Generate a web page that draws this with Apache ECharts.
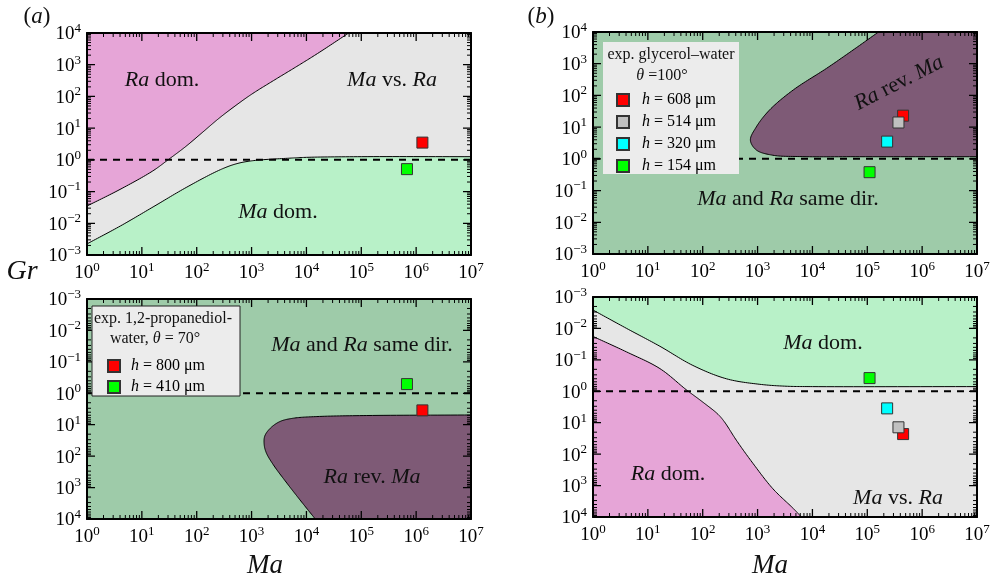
<!DOCTYPE html>
<html><head><meta charset="utf-8">
<script src="https://cdn.jsdelivr.net/npm/echarts@6/dist/echarts.min.js"></script>
<style>html,body{margin:0;padding:0;background:#fff}#c{width:993px;height:579px}</style>
</head><body><div id="c"></div>
<script>
// ---------- data (Ma, Gr) ----------
const maRange = [1, 1e7];
const grRange = [1e-3, 1e4];
const maDecades = [0,1,2,3,4,5,6,7];          // tick labels 10^n on Ma axes
const grDecades = [-3,-2,-1,0,1,2,3,4];       // tick labels 10^n on Gr axes
// panel (a) top: regime boundaries
const aTopRaBoundary = [[1,0.035],[4,0.117],[15.8,0.447],[31.6,1.07],[63,2.63],[126,7.24],[251,20],[501,50],[1000,117],[2510,316],[6310,832],[15850,2240],[5.9e4,1e4]];
const aTopMaBoundary = [[1,0.00224],[4.1,0.0083],[16.6,0.034],[66,0.138],[270,0.49],[540,0.76],[1100,0.95],[4500,1.12],[1e4,1.2],[1e5,1.26],[1e7,1.26]];
// panel (a) bottom: "Ra rev. Ma" boundary
const aBottomRevBoundary = [[1e7,4.9],[1.26e5,5.1],[1.55e4,5.5],[5800,6.2],[3300,7.9],[2200,12.9],[1740,23],[1700,44],[1860,79],[2500,190],[4400,720],[7600,2450],[1.45e4,1e4]];
// panel (b) top: "Ra rev. Ma" boundary
const bTopRevBoundary = [[1.6e5,1e4],[5.5e4,2700],[1.8e4,710],[4500,150],[1660,35],[950,10.2],[740,3.9],[950,1.9],[1900,1.3],[5900,1.18],[7.2e4,1.17],[1e7,1.17]];
// panel (b) bottom: regime boundaries
const bBottomMaBoundary = [[1,0.0026],[4.1,0.010],[16.6,0.037],[66,0.15],[270,0.40],[1100,0.60],[3300,0.69],[1e4,0.71],[1e7,0.71]];
const bBottomRaBoundary = [[1,0.018],[4.1,0.056],[16.6,0.19],[50,0.89],[100,2.2],[190,5.4],[250,9.5],[410,36],[830,200],[1900,1260],[4500,5400],[6300,1e4]];
// experiments
const aNames = ['h = 800 μm','h = 410 μm'];
const aColors = ['#ff0000','#00ff00'];
const aMa = [1.3e6, 6.8e5];
const aGr = [3.5, 0.51];
const bNames = ['h = 608 μm','h = 514 μm','h = 320 μm','h = 154 μm'];
const bColors = ['#ff0000','#c0c0c0','#00ffff','#00ff00'];
const bMa = [4.5e5, 3.7e5, 2.3e5, 1.1e5];
const bGr = [23, 14, 3.5, 0.38];
const unityLine = [[1,1],[1e7,1]];

// ---------- styles ----------
const F = 'Liberation Serif';
const C = { pink:'#e6a5d7', grey:'#e6e6e6', light:'#b8f1c8', dark:'#9ecba9', purple:'#7e5a76' };
const grids = [
  {left:87, top:33, width:384, height:222, bg:C.grey, inv:false},
  {left:87, top:299, width:384, height:220, bg:C.dark, inv:true},
  {left:593, top:32, width:384, height:222, bg:C.dark, inv:false},
  {left:593, top:297, width:384, height:220, bg:C.grey, inv:true}
];
const majors = d => d.map(e => Math.pow(10, e));
const minors = d => { const r = []; for (let i=0;i<d.length-1;i++) for (let k=2;k<=9;k++) r.push(k*Math.pow(10, d[i])); return r; };
function expLabel(v){ const e = Math.round(Math.log10(v)); return '{b|10}{e|' + (e<0 ? '\u2212'+(-e) : e) + '}'; }
const labelRich = { b:{fontFamily:F, fontSize:19, color:'#000', lineHeight:22, verticalAlign:'bottom'}, e:{fontFamily:F, fontSize:13, color:'#000', lineHeight:13, verticalAlign:'top'} };
function axisBase(g, range, inv){
  return {type:'log', logBase:10, min:range[0], max:range[1], gridIndex:g, inverse:!!inv, z:10, splitNumber:7,
    splitLine:{show:false},
    axisLine:{show:true, onZero:false, lineStyle:{color:'#000', width:2}},
    axisTick:{show:false}, minorTick:{show:false}};
}
const xAxis = [], yAxis = [];
grids.forEach((g,i)=>{
  xAxis.push(Object.assign(axisBase(i, maRange, false), {position:'bottom', axisLabel:{show:true, margin:6, customValues:majors(maDecades), formatter:expLabel, rich:labelRich}}));
  xAxis.push(Object.assign(axisBase(i, maRange, false), {position:'top', axisLabel:{show:false}}));
  yAxis.push(Object.assign(axisBase(i, grRange, g.inv), {position:'left', axisLabel:{show:true, margin:6, customValues:majors(grDecades), formatter:expLabel, rich:labelRich}}));
  yAxis.push(Object.assign(axisBase(i, grRange, g.inv), {position:'right', axisLabel:{show:false}}));
});
// inward frame ticks drawn as broken line series (tick length converted from px to log-axis factor)
function tickSeries(g, len, width, xv, yv){
  const gr = grids[g];
  const nx = Math.log10(maRange[1]/maRange[0]), ny = Math.log10(grRange[1]/grRange[0]);
  const fy = Math.pow(10, len*ny/gr.height), fx = Math.pow(10, len*nx/gr.width);
  const d = [], gap = ['-','-'];
  xv.forEach(v=>{ d.push([v, grRange[0]], [v, grRange[0]*fy], gap, [v, grRange[1]], [v, grRange[1]/fy], gap); });
  yv.forEach(v=>{ d.push([maRange[0], v], [maRange[0]*fx, v], gap, [maRange[1], v], [maRange[1]/fx, v], gap); });
  return {type:'line', xAxisIndex:2*g, yAxisIndex:2*g, data:d, showSymbol:false, silent:true, z:6, connectNulls:false,
    lineStyle:{color:'#000', width}};
}
function frameTicks(g){
  return [tickSeries(g, 8, 1.3, majors(maDecades), majors(grDecades)), tickSeries(g, 4, 1, minors(maDecades), minors(grDecades))];
}
// centripetal Catmull-Rom through pixel points (rendering only)
function smoothPath(P){
  if (P.length < 3) return P.slice();
  const out = [P[0]];
  const ext = [[2*P[0][0]-P[1][0], 2*P[0][1]-P[1][1]], ...P, [2*P[P.length-1][0]-P[P.length-2][0], 2*P[P.length-1][1]-P[P.length-2][1]]];
  const dd = (a,b)=>Math.max(1e-6, Math.pow(Math.hypot(b[0]-a[0], b[1]-a[1]), 0.5));
  for (let i=1;i<ext.length-2;i++){
    const p0=ext[i-1], p1=ext[i], p2=ext[i+1], p3=ext[i+2];
    const t0=0, t1=t0+dd(p0,p1), t2=t1+dd(p1,p2), t3=t2+dd(p2,p3);
    const N=16;
    for (let s=1;s<=N;s++){
      const t=t1+(t2-t1)*s/N;
      const Lr=(a,b,ta,tb)=>[ (tb-t)/(tb-ta)*a[0]+(t-ta)/(tb-ta)*b[0], (tb-t)/(tb-ta)*a[1]+(t-ta)/(tb-ta)*b[1] ];
      const A1=Lr(p0,p1,t0,t1), A2=Lr(p1,p2,t1,t2), A3=Lr(p2,p3,t2,t3);
      const B1=Lr(A1,A2,t0,t2), B2=Lr(A2,A3,t1,t3);
      out.push(Lr(B1,B2,t1,t2));
    }
  }
  return out;
}
function region(g, curvePts, closure, color){
  return {type:'custom', xAxisIndex:2*g, yAxisIndex:2*g, silent:true, z:1, clip:true, data:[[1,1]],
    renderItem:(params, api)=>{
      const c = smoothPath(curvePts.map(p=>api.coord(p)));
      const k = closure.map(p=>api.coord(p));
      return {type:'group', children:[
        {type:'polygon', shape:{points:c.concat(k)}, style:{fill:color}},
        {type:'polyline', shape:{points:c}, style:{stroke:'#000', lineWidth:1, fill:null}}
      ]};
    }};
}
function dashed(g){
  return {type:'line', xAxisIndex:2*g, yAxisIndex:2*g, data:unityLine, showSymbol:false, silent:true, z:3,
    lineStyle:{color:'#000', width:2, type:[7,6]}};
}
function points(g, names, colors, ma, gr){
  return names.map((n,k)=>({type:'scatter', name:n, xAxisIndex:2*g, yAxisIndex:2*g, z:4, symbol:'rect', symbolSize:11,
    data:[[ma[k], gr[k]]], itemStyle:{color:colors[k], borderColor:'#333', borderWidth:1, opacity:1}}));
}
const series = [
  region(0, aTopRaBoundary, [[1,1e4]], C.pink),
  region(0, aTopMaBoundary, [[1e7,1e-3],[1,1e-3]], C.light),
  ...frameTicks(0), dashed(0), ...points(0, aNames, aColors, aMa, aGr),
  region(1, aBottomRevBoundary, [[1e7,1e4]], C.purple),
  ...frameTicks(1), dashed(1), ...points(1, aNames, aColors, aMa, aGr),
  region(2, bTopRevBoundary, [[1e7,1e4]], C.purple),
  ...frameTicks(2), dashed(2), ...points(2, bNames, bColors, bMa, bGr),
  region(3, bBottomMaBoundary, [[1e7,1e-3],[1,1e-3]], C.light),
  region(3, bBottomRaBoundary, [[1,1e4]], C.pink),
  ...frameTicks(3), dashed(3), ...points(3, bNames, bColors, bMa, bGr)
];
function txt(x, y, text, size, rot, z){
  return {type:'text', x, y, rotation:rot||0, z:z||20,
    style:{text, fontFamily:F, fontSize:size, fill:'#111', align:'center', verticalAlign:'middle',
      rich:{i:{fontStyle:'italic', fontFamily:F, fontSize:size, fill:'#111'}}}};
}
const legendText = {fontFamily:F, fontSize:16, color:'#000', padding:[0,0,0,6],
  rich:{i:{fontStyle:'italic', fontFamily:F, fontSize:16, color:'#000'}}};
const option = {
  animation:false,
  backgroundColor:'#fff',
  grid: grids.map(g=>({left:g.left, top:g.top, width:g.width, height:g.height, show:true, backgroundColor:g.bg, borderWidth:0, containLabel:false})),
  xAxis, yAxis, series,
  legend:[
    {data:aNames, orient:'vertical', left:102, top:353, itemWidth:12, itemHeight:12, itemGap:5, icon:'rect', selectedMode:false, z:30,
      textStyle:legendText, formatter:n=>n.replace(/^h/, '{i|h}')},
    {data:bNames, orient:'vertical', left:611, top:87, itemWidth:12, itemHeight:12, itemGap:6, icon:'rect', selectedMode:false, z:30,
      textStyle:Object.assign({}, legendText, {padding:[0,0,0,8]}), formatter:n=>n.replace(/^h/, '{i|h}')}
  ],
  graphic:[
    {type:'rect', z:25, shape:{x:92, y:306, width:148, height:90}, style:{fill:'#ececec', stroke:'#222', lineWidth:1}},
    txt(163, 319, 'exp. 1,2-propanediol-', 16, 0, 31),
    txt(155, 339, 'water, {i|θ} = 70°', 16, 0, 31),
    {type:'rect', z:25, shape:{x:603, y:42, width:136, height:132}, style:{fill:'#ececec'}},
    txt(671, 55, 'exp. glycerol–water', 16, 0, 31),
    txt(662, 76, '{i|θ} =100°', 16, 0, 31),
    txt(162, 80, '{i|Ra} dom.', 22),
    txt(392, 80, '{i|Ma} vs. {i|Ra}', 22),
    txt(278, 212, '{i|Ma} dom.', 22),
    txt(362, 345, '{i|Ma} and {i|Ra} same dir.', 22),
    txt(372, 477, '{i|Ra} rev. {i|Ma}', 22),
    txt(899, 83, '{i|Ra} rev. {i|Ma}', 22, 27*Math.PI/180),
    txt(788, 199, '{i|Ma} and {i|Ra} same dir.', 22),
    txt(823, 343, '{i|Ma} dom.', 22),
    txt(668, 474, '{i|Ra} dom.', 22),
    txt(898, 498, '{i|Ma} vs. {i|Ra}', 22),
    txt(22, 272, '{i|Gr}', 28),
    txt(265, 566, '{i|Ma}', 27),
    txt(770, 566, '{i|Ma}', 27),
    txt(37, 17, '({i|a})', 23),
    txt(541, 17, '({i|b})', 23)
  ]
};
const chart = echarts.init(document.getElementById('c'), null, {renderer:'canvas'});
chart.setOption(option);
</script></body></html>
